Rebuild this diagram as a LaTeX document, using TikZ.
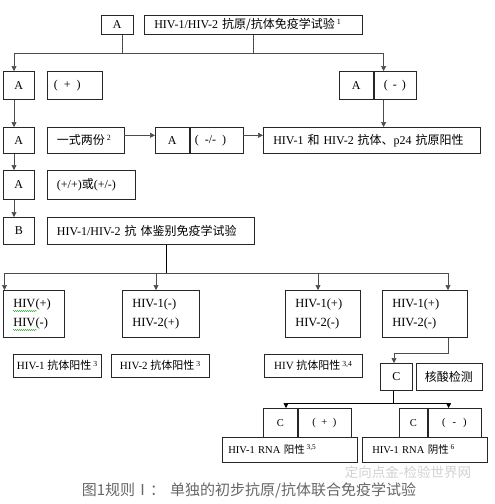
\documentclass[tikz,border=0pt]{standalone}
\usepackage{fontspec}
\setmainfont{Liberation Serif}
\newfontfamily\cjk{Noto Sans CJK SC}
\usetikzlibrary{arrows.meta,positioning,decorations.pathmorphing}

\newcommand{\sgnbox}[2][5pt]{(\hspace{#1}#2\hspace{#1})}

\tikzset{
  box/.style={draw=black!85, line width=0.6pt, rectangle, anchor=north west, inner xsep=0pt, inner ysep=0pt, font=\fontsize{12}{14}\selectfont},
  lbox/.style={box, align=left, inner xsep=10pt},
  res/.style={lbox, font=\fontsize{12.5}{19}\selectfont, minimum height=47pt},
  tag/.style={box, font=\fontsize{11}{12}\selectfont, minimum height=23pt},
  small/.style={font=\fontsize{10.5}{12}\selectfont},
  link/.style={draw=black!70, line width=0.6pt},
  arr/.style={link, -{Triangle[length=5pt,width=5pt]}},
  spell/.style={draw=green!55!black, line width=0.4pt, decorate, decoration={snake, amplitude=0.5pt, segment length=2pt}}
}

\begin{document}
\begin{tikzpicture}
\useasboundingbox (0,0) rectangle (495pt,-504pt);

% first test
\node[box, minimum width=32pt, minimum height=19pt] (topA) at (101pt,-15pt) {A};
\node[lbox, minimum width=218pt, minimum height=19pt, text width=198pt] (topT) at (144pt,-15pt) {HIV-1/HIV-2 {\cjk 抗原/抗体免疫学试验}\,\textsuperscript{1}};

% left column
\node[box, minimum width=31pt, minimum height=28pt] (A1) at (3pt,-71pt) {A};
\node[lbox, inner xsep=7pt, minimum height=28pt, text width=41pt, right=12pt of A1] (P1) {\sgnbox[6pt]{+}};
\node[box, minimum width=31pt, minimum height=26pt] (A2) at (3pt,-127pt) {A};
\node[lbox, minimum height=26pt, text width=57pt, right=12pt of A2] (S2) {{\cjk 一式两份}\,\textsuperscript{2}};
\node[box, minimum width=31pt, minimum height=29pt] (A3) at (3pt,-170pt) {A};
\node[lbox, minimum height=29pt, text width=68pt, right=12pt of A3] (S3) {(+/+){\cjk 或}(+/-)};
\node[box, minimum width=31pt, minimum height=27pt] (B) at (3pt,-217pt) {B};
\node[lbox, minimum height=27pt, text width=187pt, right=12pt of B] (W) {HIV-1/HIV-2 {\cjk 抗 体鉴别免疫学试验}};

% negative branch
\node[box, minimum width=34pt, minimum height=28pt] (RA) at (339pt,-71pt) {A};
\node[box, minimum width=42pt, minimum height=28pt, right=0pt of RA] (RM) {\sgnbox{-}};
\node[box, minimum width=34pt, minimum height=26pt] (MA) at (155pt,-127pt) {A};
\node[lbox, inner xsep=5pt, minimum height=26pt, text width=43pt, right=0pt of MA] (MM) {\sgnbox[6pt]{-/-}};
\node[lbox, minimum height=26pt, text width=197pt] (big) at (263pt,-127pt) {HIV-1 {\cjk 和} HIV-2 {\cjk 抗体、}p24 {\cjk 抗原阳性}};

% differentiation results
\node[res, text width=41pt] (R1) at (3pt,-290pt) {HIV(+)\\HIV(-)};
\node[res, text width=57pt] (R2) at (122pt,-290pt) {HIV-1(-)\\HIV-2(+)};
\node[res, text width=55pt] (R3) at (285pt,-290pt) {HIV-1(+)\\HIV-2(-)};
\node[res, text width=65pt] (R4) at (382pt,-290pt) {HIV-1(+)\\HIV-2(-)};
\draw[spell] ([shift={(10pt,-21pt)}]R1.north west) -- ++(24pt,0);
\draw[spell] ([shift={(10pt,-40pt)}]R1.north west) -- ++(24pt,0);

\node[tag, minimum width=88pt] (L1) at (13pt,-354pt) {HIV-1 {\cjk 抗体阳性}\,\textsuperscript{3}};
\node[tag, minimum width=98pt] (L2) at (111pt,-354pt) {HIV-2 {\cjk 抗体阳性}\,\textsuperscript{3}};
\node[tag, minimum width=98pt] (L3) at (264pt,-354pt) {HIV {\cjk 抗体阳性}\,\textsuperscript{3,4}};

% nucleic acid test
\node[box, minimum width=32pt, minimum height=27pt] (CA) at (380pt,-363pt) {C};
\node[box, minimum width=66pt, minimum height=27pt, right=3pt of CA] (CN) {{\cjk 核酸检测}};
\node[box, small, minimum width=34pt, minimum height=29pt] (C1) at (263pt,-408pt) {C};
\node[box, small, minimum width=53pt, minimum height=29pt, right=0pt of C1] (C1m) {\sgnbox[5.5pt]{+}};
\node[lbox, small, inner xsep=6pt, minimum height=25pt, text width=123pt] (RNA1) at (222pt,-437pt) {HIV-1 RNA {\cjk 阳性}\,\textsuperscript{3,5}};
\node[box, small, minimum width=28pt, minimum height=29pt] (C2) at (399pt,-408pt) {C};
\node[box, small, minimum width=53pt, minimum height=29pt, right=0pt of C2] (C2m) {\sgnbox[7pt]{-}};
\node[lbox, small, minimum height=25pt, text width=105pt] (RNA2) at (362pt,-437pt) {HIV-1 RNA {\cjk 阴性}\,\textsuperscript{6}};

% connectors
\coordinate (bus1) at (0,-53pt);
\coordinate (j0) at ([xshift=5pt]topA.south);
\coordinate (a1in) at ([xshift=11pt]A1.north west);
\coordinate (rin) at ([xshift=10pt]RA.north east);
\draw[link] (j0) -- (j0 |- bus1);
\draw[link] (topT.south) -- (topT.south |- bus1);
\draw[link] (a1in |- bus1) -- (rin |- bus1);
\draw[arr] (a1in |- bus1) -- (a1in);
\draw[arr] (rin |- bus1) -- (rin);

\draw[arr] ([xshift=11pt]A1.south west) -- ([xshift=11pt]A2.north west);
\draw[arr] ([xshift=11pt]A2.south west) -- ([xshift=11pt]A3.north west);
\draw[arr] ([xshift=11pt]A3.south west) -- ([xshift=11pt]B.north west);

\coordinate (rout) at ([xshift=10pt]RM.south west);
\draw[arr] (rout) -- (rout |- big.north);
\draw[arr] ([yshift=5pt]S2.east) -- ([yshift=5pt]MA.west);
\draw[arr] ([yshift=5pt]MM.east) -- ([yshift=5pt]big.west);

\coordinate (bus2) at (0,-273pt);
\coordinate (wout) at ([xshift=120pt]W.south west);
\coordinate (r1in) at ([xshift=1.5pt]R1.north west);
\coordinate (r2in) at ([xshift=34pt]R2.north west);
\coordinate (r3in) at ([xshift=33pt]R3.north west);
\coordinate (r4in) at ([xshift=66pt]R4.north west);
\draw[draw=black, line width=0.9pt] (wout) -- (wout |- bus2);
\draw[link] (r1in |- bus2) -- (r4in |- bus2);
\foreach \t in {r1in,r2in,r3in,r4in}
  \draw[arr] (\t |- bus2) -- (\t);

\coordinate (r4out) at ([xshift=66pt]R4.south west);
\coordinate (cain) at ([xshift=14pt]CA.north west);
\draw[arr] (r4out) |- ([yshift=10pt]cain) -- (cain);

\coordinate (bus3) at (0,-403pt);
\coordinate (caout) at ([xshift=13pt]CA.south west);
\coordinate (c1in) at ([xshift=23pt]C1.north west);
\coordinate (c2in) at ([xshift=21pt]C2m.north west);
\draw[link, draw=black] (caout) -- (caout |- bus3);
\draw[link, draw=black] (c1in |- bus3) -- (c2in |- bus3);
\draw[arr, draw=black] (c1in |- bus3) -- (c1in);
\draw[arr, draw=black] (c2in |- bus3) -- (c2in);

% caption and watermark
\node[text=black!60, font=\cjk\fontsize{15}{16}\selectfont] (cap) at (249pt,-490pt) {图1规则Ⅰ：\hspace{5pt}单独的初步抗原/抗体联合免疫学试验};
\node[text=black!18, font=\cjk\fontsize{13.5}{14}\selectfont] (wm) at (408pt,-472pt) {定向点金-检验世界网};
\end{tikzpicture}
\end{document}
